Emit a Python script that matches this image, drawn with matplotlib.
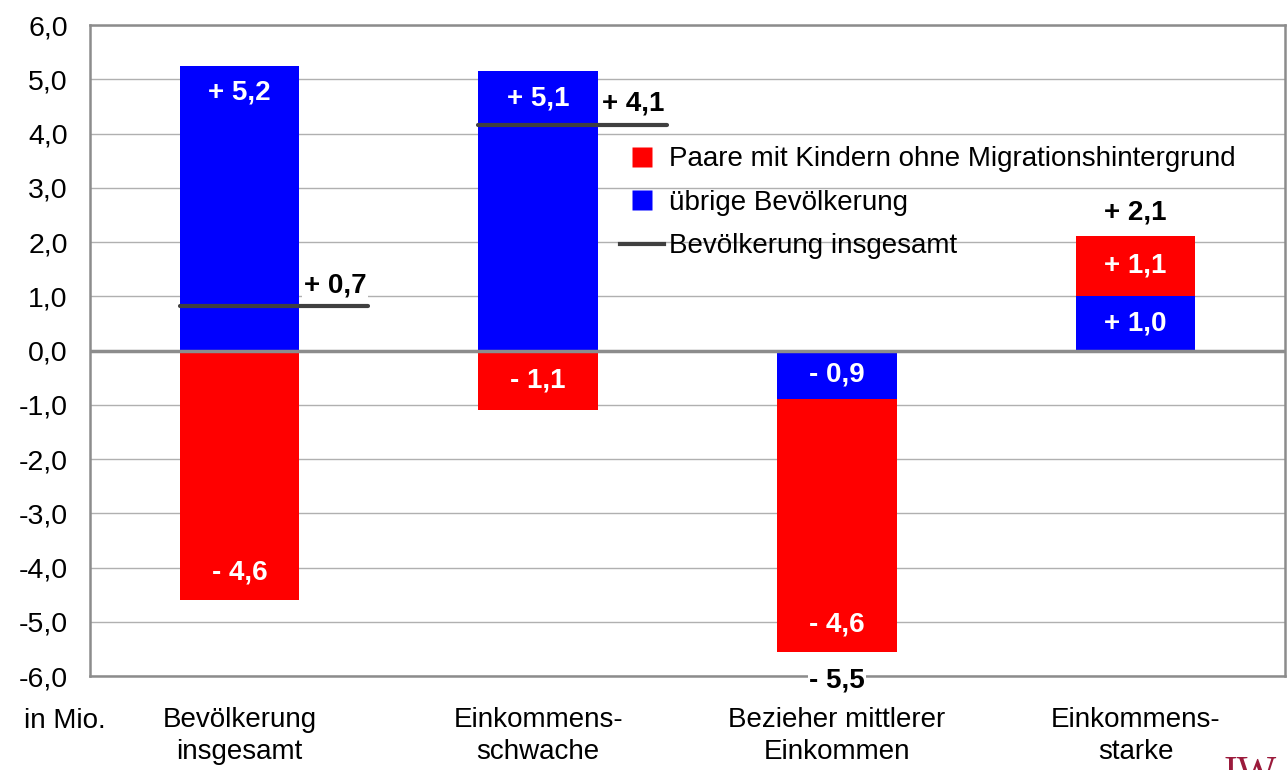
import matplotlib.pyplot as plt
import numpy as np
from matplotlib.lines import Line2D

plt.rcParams['font.family'] = ['Liberation Sans', 'DejaVu Sans']

kategorien = ["Bevölkerung\ninsgesamt", "Einkommens-\nschwache",
              "Bezieher mittlerer\nEinkommen", "Einkommens-\nstarke"]
uebrige = [5.25, 5.15, -0.9, 1.0]
paare = [-4.6, -1.1, -4.65, 1.12]
uebrige_txt = ["+ 5,2", "+ 5,1", "- 0,9", "+ 1,0"]
paare_txt = ["- 4,6", "- 1,1", "- 4,6", "+ 1,1"]
gesamt_linie = [0.82, 4.15]
gesamt_txt = ["+ 0,7", "+ 4,1", "- 5,5", "+ 2,1"]
gesamt_pos = [(0.32, 1.2), (1.32, 4.56), (2.0, -6.09), (3.0, 2.55)]
yticks = np.arange(-6, 7, 1)

blau = "#0000ff"
rot = "#ff0000"
grau = "#8c8c8c"
dunkel = "#404040"

fig = plt.figure(figsize=(12.87, 7.70), dpi=100)
ax = fig.add_axes([0.0699, 0.122, 0.9285, 0.8455])

x = np.arange(len(kategorien))
w = 0.4

ax.bar(x, uebrige, w, color=blau, zorder=2)
unten = [u if (u > 0) == (p > 0) else 0 for u, p in zip(uebrige, paare)]
ax.bar(x, paare, w, bottom=unten, color=rot, zorder=2)


def label_y(start, h):
    if abs(h) > 2:
        return start + h - np.sign(h) * 0.5
    return start + h / 2


for i in x:
    ax.text(i, label_y(0, uebrige[i]), uebrige_txt[i], color="white",
            fontsize=20, fontweight="bold", ha="center", va="center", zorder=4)
    ax.text(i, label_y(unten[i], paare[i]), paare_txt[i], color="white",
            fontsize=20, fontweight="bold", ha="center", va="center", zorder=4)

for i, v in enumerate(gesamt_linie):
    ax.plot([i - 0.2, i + 0.43], [v, v], color=dunkel, lw=3, zorder=3,
            solid_capstyle="round")

for t, (px, py) in zip(gesamt_txt, gesamt_pos):
    ax.text(px, py, t, fontsize=20, fontweight="bold", ha="center", va="center",
            zorder=5, bbox=dict(facecolor="white", edgecolor="none", pad=1))

ax.axhline(0, color=grau, lw=2.5, zorder=3)

ax.set_xlim(-0.5, 3.5)
ax.set_ylim(-6, 6)
ax.set_yticks(yticks)
ax.set_yticklabels([f"{v:.1f}".replace(".", ",") for v in yticks], fontsize=20.5)
ax.set_xticks(x)
ax.set_xticklabels(kategorien, fontsize=20, linespacing=1.3)
ax.tick_params(axis="both", length=0)
ax.tick_params(axis="y", pad=16)
ax.tick_params(axis="x", pad=22)
ax.yaxis.grid(True, color="#b0b0b0", lw=1, zorder=0)
ax.set_axisbelow(True)
for s in ax.spines.values():
    s.set_color(grau)
    s.set_linewidth(1.8)

handles = [
    Line2D([], [], marker="s", color="none", markerfacecolor=rot,
           markeredgecolor="none", markersize=14),
    Line2D([], [], marker="s", color="none", markerfacecolor=blau,
           markeredgecolor="none", markersize=14),
    Line2D([], [], color=dunkel, lw=3),
]
labels = ["Paare mit Kindern ohne Migrationshintergrund",
          "übrige Bevölkerung", "Bevölkerung insgesamt"]
ax.legend(handles, labels, loc="upper left", bbox_to_anchor=(0.4817, 0.81),
          bbox_transform=fig.transFigure, frameon=False, fontsize=20,
          handlelength=1.6, handletextpad=0.18, labelspacing=0.63,
          borderpad=0, borderaxespad=0)

fig.text(0.05, 0.063, "in Mio.", fontsize=20, ha="center", va="center")
fig.text(0.951, -0.03, "IW", fontsize=30, color="#9b1b3c",
         family="Liberation Serif", ha="left", va="bottom")

fig.savefig("out.png", dpi=100)
